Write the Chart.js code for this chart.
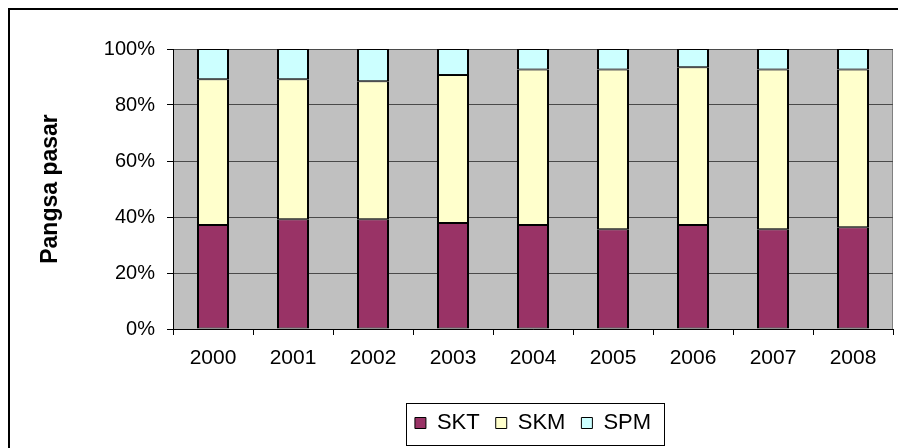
<!DOCTYPE html>
<html>
<head>
<meta charset="utf-8">
<script src="https://cdn.jsdelivr.net/npm/chart.js@4.4.1/dist/chart.umd.min.js"></script>
<style>
  html, body { margin: 0; padding: 0; background: #fff; }
  #wrap { width: 898px; height: 448px; }
</style>
</head>
<body>
<div id="wrap"><canvas id="chart" width="898" height="448"></canvas></div>
<script>
const years = ['2000', '2001', '2002', '2003', '2004', '2005', '2006', '2007', '2008']
const skt = [37.1, 39.2, 39.2, 37.9, 37.1, 35.6, 37.1, 35.6, 36.3]
const skm = [52.1, 50.0, 49.3, 52.8, 55.6, 57.1, 56.4, 57.1, 56.4]
const spm = [10.8, 10.8, 11.5, 9.3, 7.3, 7.3, 6.5, 7.3, 7.3]
const yTicks = [0, 20, 40, 60, 80, 100]

const FONT = 'Liberation Sans, Arial, sans-serif'

// plot background, outer frame and legend box
const frame = {
  id: 'frame',
  afterLayout(chart) {
    // legend sits centred under the plot area, not the canvas
    const a = chart.chartArea
    const lg = chart.legend
    lg.left = a.left + a.right - lg.right
  },
  beforeDraw(chart) {
    const ctx = chart.ctx
    const a = chart.chartArea
    ctx.save()
    ctx.fillStyle = '#fff'
    ctx.fillRect(0, 0, chart.width, chart.height)
    ctx.strokeStyle = '#000'
    ctx.lineWidth = 2
    ctx.strokeRect(9, 9, 1000, 1000)
    ctx.fillStyle = '#c0c0c0'
    ctx.fillRect(a.left, a.top, a.right - a.left, a.bottom - a.top)
    ctx.strokeStyle = '#808080'
    ctx.lineWidth = 1
    ctx.strokeRect(a.left + 0.5, a.top + 0.5, a.right - a.left - 1, a.bottom - a.top)
    ctx.restore()
  },
  afterDraw(chart) {
    const boxes = chart.legend.legendHitBoxes
    if (!boxes || !boxes.length) return
    const first = boxes[0]
    const last = boxes[boxes.length - 1]
    const mid = first.top + first.height / 2
    const ctx = chart.ctx
    ctx.save()
    ctx.strokeStyle = '#000'
    ctx.lineWidth = 1
    ctx.strokeRect(Math.round(first.left - 9) + 0.5, Math.round(mid - 20) + 0.5,
      Math.round(last.left + last.width - first.left + 22), 42)
    ctx.restore()
  }
}

const ctx = document.getElementById('chart').getContext('2d')
new Chart(ctx, {
  type: 'bar',
  data: {
    labels: years,
    datasets: [
      { label: 'SKT', data: skt, backgroundColor: '#993366' },
      { label: 'SKM', data: skm, backgroundColor: '#ffffcc' },
      { label: 'SPM', data: spm, backgroundColor: '#ccffff' }
    ].map(d => Object.assign(d, {
      borderColor: '#000',
      borderWidth: { top: 1, bottom: 1, left: 2, right: 2 },
      borderSkipped: false,
      categoryPercentage: 1,
      barPercentage: 0.4
    }))
  },
  options: {
    responsive: false,
    animation: false,
    events: [],
    layout: { padding: { top: 49, right: 5, left: 0, bottom: 4 } },
    scales: {
      x: {
        stacked: true,
        grid: { drawOnChartArea: false, tickLength: 6, tickColor: '#000' },
        border: { color: '#000', width: 1 },
        ticks: { color: '#000', font: { family: FONT, size: 21 }, padding: 11, maxRotation: 0 },
        afterFit: s => { s.height = 67 }
      },
      y: {
        stacked: true,
        min: 0,
        max: 100,
        afterBuildTicks: s => { s.ticks = yTicks.map(v => ({ value: v })) },
        grid: { color: '#4a4a4a', tickLength: 6, tickColor: '#000' },
        border: { color: '#000', width: 1 },
        ticks: {
          color: '#000',
          font: { family: FONT, size: 20 },
          padding: 12,
          callback: v => v + '%'
        },
        title: {
          display: true,
          text: 'Pangsa pasar',
          color: '#000',
          font: { family: FONT, size: 23, weight: 'bold' },
          padding: { top: 37, bottom: 0 }
        },
        afterFit: s => { s.width = 173 }
      }
    },
    plugins: {
      legend: {
        position: 'bottom',
        labels: {
          color: '#000',
          font: { family: FONT, size: 22 },
          boxWidth: 11,
          boxHeight: 11,
          padding: 16,
          generateLabels: chart => chart.data.datasets.map((d, i) => ({
            text: d.label,
            fillStyle: d.backgroundColor,
            strokeStyle: '#000',
            lineWidth: 1,
            datasetIndex: i
          }))
        }
      },
      tooltip: { enabled: false }
    }
  },
  plugins: [frame]
})
</script>
</body>
</html>
